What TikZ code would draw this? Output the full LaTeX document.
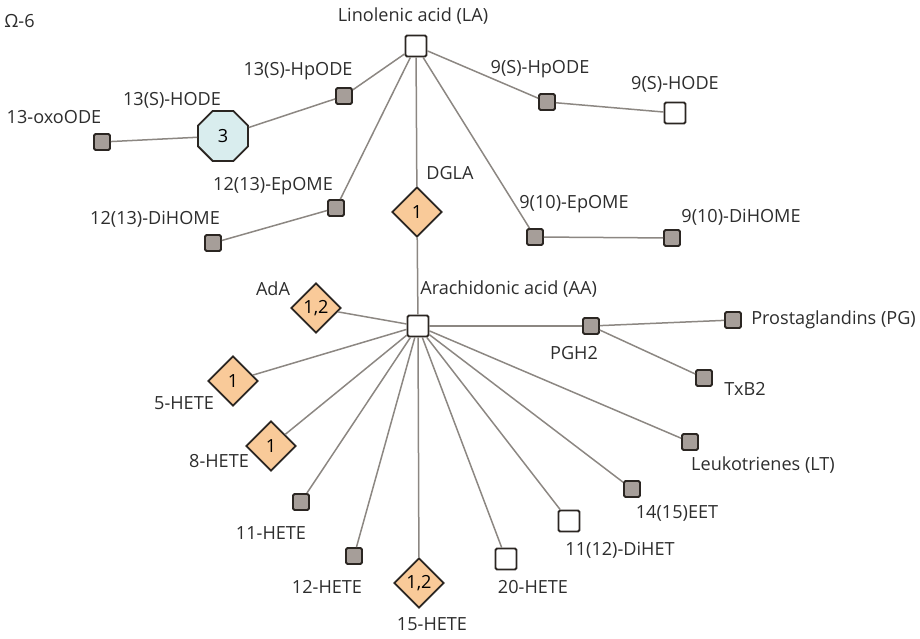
\documentclass[tikz,border=0pt]{standalone}
\usepackage{fontspec}
\setmainfont{Open Sans}
\usetikzlibrary{shapes.geometric}

\definecolor{rimdark}{RGB}{43,38,34}
\definecolor{metgrey}{RGB}{166,158,153}
\definecolor{peach}{RGB}{249,202,153}
\definecolor{icecyan}{RGB}{217,237,238}
\definecolor{linkgrey}{RGB}{140,135,130}
\definecolor{textgrey}{RGB}{45,45,45}

\begin{document}
\begin{tikzpicture}[x = 1pt, y = -1pt, % one unit per pixel, y going down
                font = \fontsize{18.1}{21}\selectfont,
                semithick % line style
            ]

            \tikzstyle{met}=[draw = rimdark, line width = 1.8pt, inner sep = 0pt]
            \tikzstyle{mgrey}=[met, rectangle, rounded corners = 1.5pt,
            fill = metgrey, minimum size = 16pt]
            \tikzstyle{mwhite}=[met, rectangle, rounded corners = 1.5pt,
            fill = white, minimum size = 21pt]
            \tikzstyle{mdiam}=[met, diamond, fill = peach, minimum size = 50pt]
            \tikzstyle{moct}=[met, regular polygon, regular polygon sides = 8,
            fill = icecyan, minimum size = 54pt]
            \tikzstyle{lbl}=[text = textgrey, inner sep = 0pt]
            \tikzstyle{link}=[draw = linkgrey, line width = 1.5pt]

            \useasboundingbox (0,0) rectangle (920,639);

            % linolenic acid branch
            \node[mwhite] (LA) at (416,46) {};
            \node[mgrey] (hp13) at (344,96) {};
            \node[moct] (ho13) at (223,136) {3};
            \node[mgrey] (oxo) at (102,142) {};
            \node[mgrey] (ep12) at (336,208) {};
            \node[mgrey] (dh12) at (213,243) {};
            \node[mdiam] (DGLA) at (417,212) {1};
            \node[mgrey] (hp9) at (547,102) {};
            \node[mwhite] (ho9) at (675,113) {};
            \node[mgrey] (ep9) at (535,237) {};
            \node[mgrey] (dh9) at (672,238) {};

            % arachidonic acid branch
            \node[mwhite] (AA) at (418,326) {};
            \node[mdiam] (AdA) at (316,308) {1,2};
            \node[mdiam] (h5) at (233,381) {1};
            \node[mdiam] (h8) at (271,446) {1};
            \node[mgrey] (h11) at (301,502) {};
            \node[mgrey] (h12) at (354,556) {};
            \node[mdiam] (h15) at (419,583) {1,2};
            \node[mwhite] (h20) at (506,559) {};
            \node[mwhite] (dihet) at (569,521) {};
            \node[mgrey] (eet) at (632,489) {};
            \node[mgrey] (LT) at (690,442) {};
            \node[mgrey] (PGH2) at (591,326) {};
            \node[mgrey] (PG) at (733,320) {};
            \node[mgrey] (TxB2) at (704,378) {};

            % labels
            \node[lbl, anchor = west] (omega) at (4,21) {Ω-6};
            \node[lbl] (tLA) at (413,16) {Linolenic acid (LA)};
            \node[lbl] (thp13) at (298,71) {13(S)-HpODE};
            \node[lbl] (tho13) at (172,100) {13(S)-HODE};
            \node[lbl] (toxo) at (54,117) {13-oxoODE};
            \node[lbl] (tep12) at (273,186) {12(13)-EpOME};
            \node[lbl] (tdh12) at (155,219) {12(13)-DiHOME};
            \node[lbl, anchor = west] (tDGLA) at (426,173) {DGLA};
            \node[lbl] (thp9) at (540,69) {9(S)-HpODE};
            \node[lbl] (tho9) at (675,84) {9(S)-HODE};
            \node[lbl] (tep9) at (574,204) {9(10)-EpOME};
            \node[lbl] (tdh9) at (741,217) {9(10)-DiHOME};
            \node[lbl, anchor = west] (tAA) at (420,289) {Arachidonic acid (AA)};
            \node[lbl] (tAdA) at (273,289) {AdA};
            \node[lbl] (th5) at (184,403) {5-HETE};
            \node[lbl] (th8) at (219,461) {8-HETE};
            \node[lbl] (th11) at (271,533) {11-HETE};
            \node[lbl] (th12) at (327,587) {12-HETE};
            \node[lbl] (th15) at (432,624) {15-HETE};
            \node[lbl] (th20) at (533,587) {20-HETE};
            \node[lbl] (tdihet) at (620,550) {11(12)-DiHET};
            \node[lbl] (teet) at (677,513) {14(15)EET};
            \node[lbl] (tLT) at (763,465) {Leukotrienes (LT)};
            \node[lbl] (tPGH2) at (574,353) {PGH2};
            \node[lbl, anchor = west] (tPG) at (751,320) {Prostaglandins (PG)};
            \node[lbl] (tTxB2) at (745,389) {TxB2};

            \path[link] (LA) edge (hp13) edge (ep12) edge (DGLA) edge (hp9)
            edge (ep9); \path[link] (hp13) edge (ho13); \path[link] (ho13) edge
            (oxo); \path[link] (ep12) edge (dh12); \path[link] (hp9) edge (ho9);
            \path[link] (ep9) edge (dh9); \path[link] (DGLA) edge (AA);
            \path[link] (AA) edge (AdA) edge (h5) edge (h8) edge (h11) edge
            (h12) edge (h15) edge (h20) edge (dihet) edge (eet) edge (LT) edge
            (PGH2); \path[link] (PGH2) edge (PG) edge (TxB2);
        \end{tikzpicture}
\end{document}
